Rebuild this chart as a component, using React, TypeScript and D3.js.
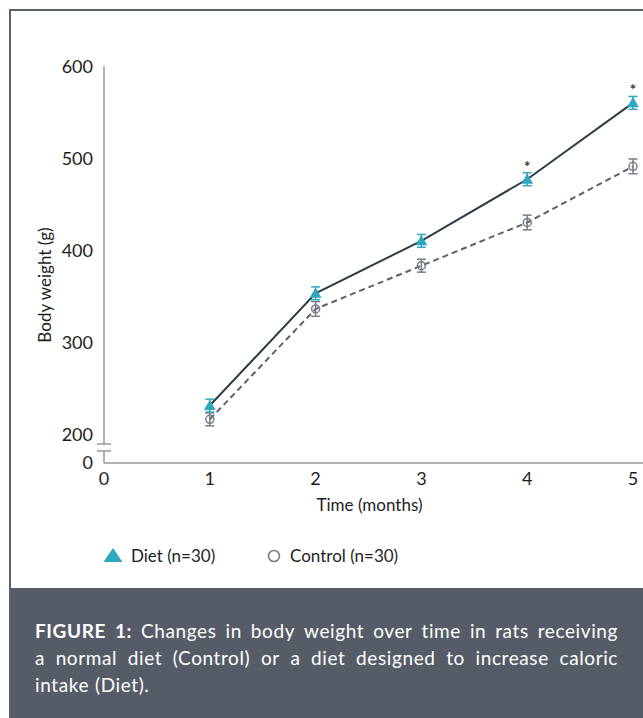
import React, { useEffect, useRef } from 'react';
import * as d3 from 'd3';

const months = [1, 2, 3, 4, 5];
const dietMean = [232, 354, 411, 478, 561];
const dietErr = [7, 7, 7, 7, 7];
const controlMean = [217, 337, 384, 431, 492];
const controlErr = [7, 8, 7, 8, 8];
const significant = [false, false, false, true, true];

const xTicks = [0, 1, 2, 3, 4, 5];
const yTicks = [0, 200, 300, 400, 500, 600];

const captionLines = [
  ['*FIGURE', '*1:', 'Changes', 'in', 'body', 'weight', 'over', 'time', 'in', 'rats', 'receiving'],
  ['a', 'normal', 'diet', '(Control)', 'or', 'a', 'diet', 'designed', 'to', 'increase', 'caloric'],
  ['intake', '(Diet).'],
];

const FONT = 'Lato, "Open Sans", sans-serif';
const TEAL = '#2ea7c0';
const GREY = '#777d86';

export default function App() {
  const svgRef = useRef<SVGSVGElement>(null);

  useEffect(() => {
    const svg = d3.select(svgRef.current);
    svg.selectAll('*').remove();

    const W = 643;
    const H = 718;

    // frame + caption panel
    svg.append('rect').attr('x', 10).attr('y', 10).attr('width', W).attr('height', H)
      .attr('fill', '#fff').attr('stroke', '#5a616c').attr('stroke-width', 2);
    svg.append('rect').attr('x', 11).attr('y', 588).attr('width', W).attr('height', H - 588)
      .attr('fill', '#555c67');

    // scales (broken y axis: 0 -> 200 squeezed)
    const x = d3.scaleLinear().domain([0, 5]).range([104, 633]);
    const y = d3.scaleLinear().domain([0, 200, 600]).range([463, 435, 67]);

    const axisColor = '#9a9a9a';
    const g = svg.append('g');

    // y axis with break
    const breakTop = y(200) + 9;
    const breakBot = y(0) - 12;
    g.append('line').attr('x1', x(0)).attr('x2', x(0)).attr('y1', y(600) - 1).attr('y2', breakTop)
      .attr('stroke', axisColor).attr('stroke-width', 1.5);
    g.append('line').attr('x1', x(0)).attr('x2', x(0)).attr('y1', breakBot).attr('y2', y(0))
      .attr('stroke', axisColor).attr('stroke-width', 1.5);
    [breakTop, breakBot].forEach((by) => {
      g.append('line').attr('x1', x(0) - 7).attr('x2', x(0) + 7).attr('y1', by).attr('y2', by)
        .attr('stroke', axisColor).attr('stroke-width', 1.5);
    });
    // x axis
    g.append('line').attr('x1', x(0)).attr('x2', W).attr('y1', y(0)).attr('y2', y(0))
      .attr('stroke', axisColor).attr('stroke-width', 1.5);

    g.selectAll('.ytick').data(yTicks).enter().append('text')
      .attr('x', x(0) - 11).attr('y', (d) => y(d)).attr('dy', '0.35em')
      .attr('text-anchor', 'end').attr('font-family', FONT).attr('font-size', 18)
      .attr('fill', '#1e1e1e').text((d) => d);

    g.selectAll('.xtick').data(xTicks).enter().append('text')
      .attr('x', (d) => x(d)).attr('y', y(0) + 16).attr('dy', '0.35em')
      .attr('text-anchor', 'middle').attr('font-family', FONT).attr('font-size', 18)
      .attr('fill', '#1e1e1e').text((d) => d);

    g.append('text').attr('transform', `translate(45, ${(y(600) + y(0)) / 2 + 20}) rotate(-90)`)
      .attr('text-anchor', 'middle').attr('dy', '0.35em').attr('font-family', FONT)
      .attr('font-size', 17).attr('fill', '#1e1e1e').text('Body weight (g)');

    g.append('text').attr('x', (x(0) + x(5)) / 2 + 1).attr('y', y(0) + 42).attr('dy', '0.35em')
      .attr('text-anchor', 'middle').attr('font-family', FONT).attr('font-size', 17)
      .attr('fill', '#1e1e1e').text('Time (months)');

    // series
    const line = d3.line<number>().x((d, i) => x(months[i])).y((d) => y(d));

    g.append('path').attr('d', line(controlMean)).attr('fill', 'none')
      .attr('stroke', '#5b626e').attr('stroke-width', 2).attr('stroke-dasharray', '6,4');
    g.append('path').attr('d', line(dietMean)).attr('fill', 'none')
      .attr('stroke', '#2c3d48').attr('stroke-width', 2);

    const errBars = (means: number[], errs: number[], color: string) => {
      means.forEach((m, i) => {
        const cx = x(months[i]);
        const eb = g.append('g').attr('stroke', color).attr('stroke-width', 1.5);
        eb.append('line').attr('x1', cx).attr('x2', cx).attr('y1', y(m - errs[i])).attr('y2', y(m + errs[i]));
        [m - errs[i], m + errs[i]].forEach((v) => {
          eb.append('line').attr('x1', cx - 4.5).attr('x2', cx + 4.5).attr('y1', y(v)).attr('y2', y(v));
        });
      });
    };

    errBars(controlMean, controlErr, GREY);
    controlMean.forEach((m, i) => {
      g.append('circle').attr('cx', x(months[i])).attr('cy', y(m)).attr('r', 4)
        .attr('fill', 'none').attr('stroke', GREY).attr('stroke-width', 1.5);
    });

    errBars(dietMean, dietErr, TEAL);
    const tri = d3.symbol().type(d3.symbolTriangle).size(60);
    dietMean.forEach((m, i) => {
      g.append('path').attr('d', tri()).attr('transform', `translate(${x(months[i])}, ${y(m) + 1})`)
        .attr('fill', TEAL);
      if (significant[i]) {
        g.append('text').attr('x', x(months[i])).attr('y', y(m + dietErr[i]) - 8)
          .attr('dy', '0.45em').attr('text-anchor', 'middle').attr('font-family', FONT)
          .attr('font-size', 15).attr('font-weight', 'bold').attr('fill', '#333').text('*');
      }
    });

    // legend
    const lg = svg.append('g');
    lg.append('path').attr('d', 'M113,548 L122.5,562 L103.5,562 Z').attr('fill', TEAL);
    lg.append('text').attr('x', 131).attr('y', 556).attr('dy', '0.35em').attr('font-family', FONT)
      .attr('font-size', 17).attr('fill', '#1e1e1e').text('Diet (n=30)');
    lg.append('circle').attr('cx', 274).attr('cy', 556).attr('r', 5.5).attr('fill', 'none')
      .attr('stroke', GREY).attr('stroke-width', 1.6);
    lg.append('text').attr('x', 290).attr('y', 556).attr('dy', '0.35em').attr('font-family', FONT)
      .attr('font-size', 17).attr('fill', '#1e1e1e').text('Control (n=30)');

    // caption, justified word by word
    const left = 35;
    const right = 618;
    const baselines = [638, 665, 692];
    const cap = svg.append('g').attr('font-family', FONT).attr('font-size', 19).attr('fill', '#fff')
      .attr('letter-spacing', 0.6);
    captionLines.forEach((words, li) => {
      const nodes = words.map((w) => {
        const bold = w.startsWith('*');
        return cap.append('text').attr('y', baselines[li]).attr('font-weight', bold ? 'bold' : 'normal')
          .text(bold ? w.slice(1) : w);
      });
      const widths = nodes.map((n) => (n.node() as SVGTextElement).getComputedTextLength());
      const total = d3.sum(widths);
      const last = li === captionLines.length - 1;
      const gap = last ? 6 : (right - left - total) / (words.length - 1);
      let cx = left;
      nodes.forEach((n, i) => {
        n.attr('x', cx);
        cx += widths[i] + gap;
      });
    });
  }, []);

  return (
    <svg ref={svgRef} width={643} height={718}
      style={{ position: 'absolute', left: 0, top: 0, display: 'block' }} />
  );
}
